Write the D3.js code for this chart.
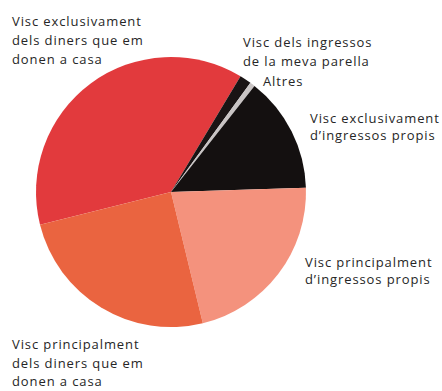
<!DOCTYPE html>
<html>
<head>
<meta charset="utf-8">
<script src="https://cdn.jsdelivr.net/npm/d3@7"></script>
<style>
  html, body { margin: 0; padding: 0; background: #fff; }
  svg { display: block; }
  text { font-family: "Open Sans", "Noto Sans", sans-serif; fill: #262626; }
</style>
</head>
<body>
<svg id="chart" width="442" height="391"></svg>
<script>
// Com es financen: share of respondents by source of income (%)
const categories = [
  "Visc exclusivament dels diners que em donen a casa",
  "Visc dels ingressos de la meva parella",
  "Altres",
  "Visc exclusivament d'ingressos propis",
  "Visc principalment d'ingressos propis",
  "Visc principalment dels diners que em donen a casa"
];
const values = [37.5, 1.4, 0.6, 13.9, 21.7, 24.9];

// Label text, split into lines as printed
const labelLines = [
  ["Visc exclusivament", "dels diners que em", "donen a casa"],
  ["Visc dels ingressos", "de la meva parella"],
  ["Altres"],
  ["Visc exclusivament", "d\u2019ingressos propis"],
  ["Visc principalment", "d\u2019ingressos propis"],
  ["Visc principalment", "dels diners que em", "donen a casa"]
];

const sliceColors = ["#e23a3d", "#1a1414", "#c9c4c4", "#141010", "#f4927d", "#ea6440"];

const svg = d3.select("#chart");
const cx = 171, cy = 192, radius = 135;

const start = -104 * Math.PI / 180;
const pie = d3.pie().sort(null).value(d => d.value)
  .startAngle(start).endAngle(start + 2 * Math.PI);
const arc = d3.arc().innerRadius(0).outerRadius(radius);

const data = categories.map((c, i) => ({ name: c, value: values[i], color: sliceColors[i] }));

const g = svg.append("g").attr("transform", `translate(${cx},${cy})`);
g.selectAll("path")
  .data(pie(data))
  .join("path")
  .attr("d", arc)
  .attr("fill", d => d.data.color);

// Label placement: left x and the first line's baseline, with line spacing
const labelPos = [
  { x: 12, y: 26, dy: 19 },
  { x: 243, y: 47, dy: 19 },
  { x: 263, y: 86, dy: 17 },
  { x: 310, y: 123, dy: 17 },
  { x: 305, y: 267, dy: 17 },
  { x: 12, y: 349, dy: 18.5 }
];

const labels = svg.append("g").attr("class", "labels");
labelLines.forEach((lines, i) => {
  const p = labelPos[i];
  const t = labels.append("text")
    .attr("x", p.x).attr("y", p.y)
    .attr("font-size", 13)
    .attr("letter-spacing", 0.9);
  lines.forEach((ln, j) => {
    t.append("tspan").attr("x", p.x).attr("y", p.y + j * p.dy).text(ln);
  });
});
</script>
</body>
</html>
